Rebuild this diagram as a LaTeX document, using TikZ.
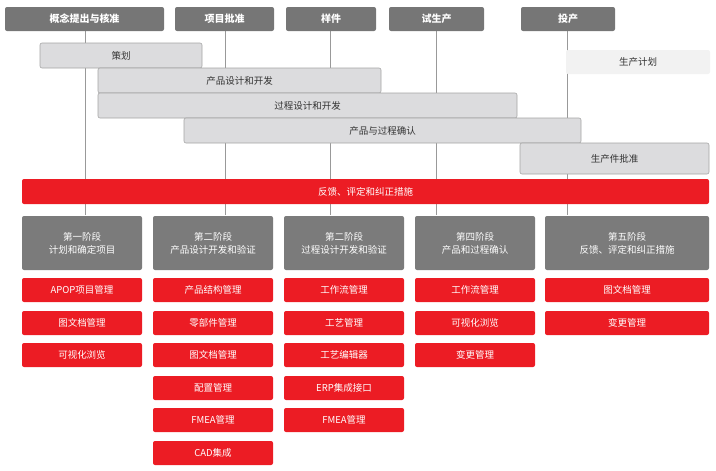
\documentclass[tikz,border=0pt]{standalone}
\usepackage{fontspec}
\setmainfont{Noto Sans CJK SC}
\begin{document}
\begin{tikzpicture}[x=1pt,y=-1pt,
 hdr/.style={fill=hdrgray,rounded corners=2pt,text=white,font=\bfseries\fontsize{10}{12}\selectfont,inner sep=0pt},
 bar/.style={fill=barfill,draw=bardraw,line width=0.6pt,rounded corners=2pt,text=black!80,font=\fontsize{9.5}{11}\selectfont,inner sep=0pt},
 redbox/.style={fill=redc,rounded corners=2pt,text=white,font=\fontsize{9.5}{11}\selectfont,inner sep=0pt},
 stage/.style={fill=stgray,rounded corners=2pt,text=white,align=center,font=\fontsize{9.5}{13}\selectfont,inner sep=0pt},
 vline/.style={draw=black!40,line width=0.6pt}]
\definecolor{hdrgray}{HTML}{767676}
\definecolor{stgray}{HTML}{7B7B7B}
\definecolor{barfill}{HTML}{DCDCDE}
\definecolor{bardraw}{HTML}{A5A5A5}
\definecolor{redc}{HTML}{EC1C24}
\useasboundingbox (0,0) rectangle (716,471);
% B{name}{style}{x1}{y1}{x2}{y2}{text}
\newcommand\Bx[7]{\node[#2,minimum width={#5-#3},minimum height={#6-#4}] (#1) at ({(#3+#5)/2},{(#4+#6)/2}) {#7};}
% vertical lines
\coordinate (l1) at (85,215); \coordinate (l2) at (225,215); \coordinate (l3) at (330,215);
\coordinate (l4) at (436,215); \coordinate (l5) at (567,215);
\coordinate (t1) at (85,31); \coordinate (t2) at (225,31); \coordinate (t3) at (330,31);
\coordinate (t4) at (436,31); \coordinate (t5) at (567,31);
\foreach \i in {1,...,5}{\draw[vline] (t\i) -- (l\i);}
\Bx{h1}{hdr}{5}{7}{164}{31}{概念提出与核准}
\Bx{h2}{hdr}{175}{7}{274}{31}{项目批准}
\Bx{h3}{hdr}{286}{7}{376}{31}{样件}
\Bx{h4}{hdr}{389}{7}{484}{31}{试生产}
\Bx{h5}{hdr}{521}{7}{615}{31}{投产}
\Bx{b6}{bar,fill=black!5,draw=none}{566}{50}{710}{74}{生产计划}
\Bx{b1}{bar}{40}{43}{202}{68}{策划}
\Bx{b2}{bar}{98}{68}{381}{93}{产品设计和开发}
\Bx{b3}{bar}{98}{93}{517}{118}{过程设计和开发}
\Bx{b4}{bar}{184}{118}{581}{143}{产品与过程确认}
\Bx{b5}{bar}{520}{143}{709}{174}{生产件批准}
\Bx{r0}{redbox}{22}{179}{709}{204}{反馈、评定和纠正措施}
\Bx{s1}{stage}{22}{216}{142}{270}{第一阶段\\计划和确定项目}
\Bx{s2}{stage}{153}{216}{273}{270}{第二阶段\\产品设计开发和验证}
\Bx{s3}{stage}{284}{216}{404}{270}{第二阶段\\过程设计开发和验证}
\Bx{s4}{stage}{415}{216}{535}{270}{第四阶段\\产品和过程确认}
\Bx{s5}{stage}{545}{216}{709}{270}{第五阶段\\反馈、评定和纠正措施}
\Bx{a1}{redbox}{22}{278}{142}{302}{APOP项目管理}
\Bx{a2}{redbox}{22}{311}{142}{335}{图文档管理}
\Bx{a3}{redbox}{22}{343}{142}{367}{可视化浏览}
\Bx{b1x}{redbox}{153}{278}{273}{302}{产品结构管理}
\Bx{b2x}{redbox}{153}{311}{273}{335}{零部件管理}
\Bx{b3x}{redbox}{153}{343}{273}{367}{图文档管理}
\Bx{b4x}{redbox}{153}{376}{273}{400}{配置管理}
\Bx{b5x}{redbox}{153}{408}{273}{432}{FMEA管理}
\Bx{b6x}{redbox}{153}{441}{273}{465}{CAD集成}
\Bx{c1}{redbox}{284}{278}{404}{302}{工作流管理}
\Bx{c2}{redbox}{284}{311}{404}{335}{工艺管理}
\Bx{c3}{redbox}{284}{343}{404}{367}{工艺编辑器}
\Bx{c4}{redbox}{284}{376}{404}{400}{ERP集成接口}
\Bx{c5}{redbox}{284}{408}{404}{432}{FMEA管理}
\Bx{d1}{redbox}{415}{278}{535}{302}{工作流管理}
\Bx{d2}{redbox}{415}{311}{535}{335}{可视化浏览}
\Bx{d3}{redbox}{415}{343}{535}{367}{变更管理}
\Bx{e1}{redbox}{545}{278}{709}{302}{图文档管理}
\Bx{e2}{redbox}{545}{311}{709}{335}{变更管理}
\end{tikzpicture}
\end{document}
